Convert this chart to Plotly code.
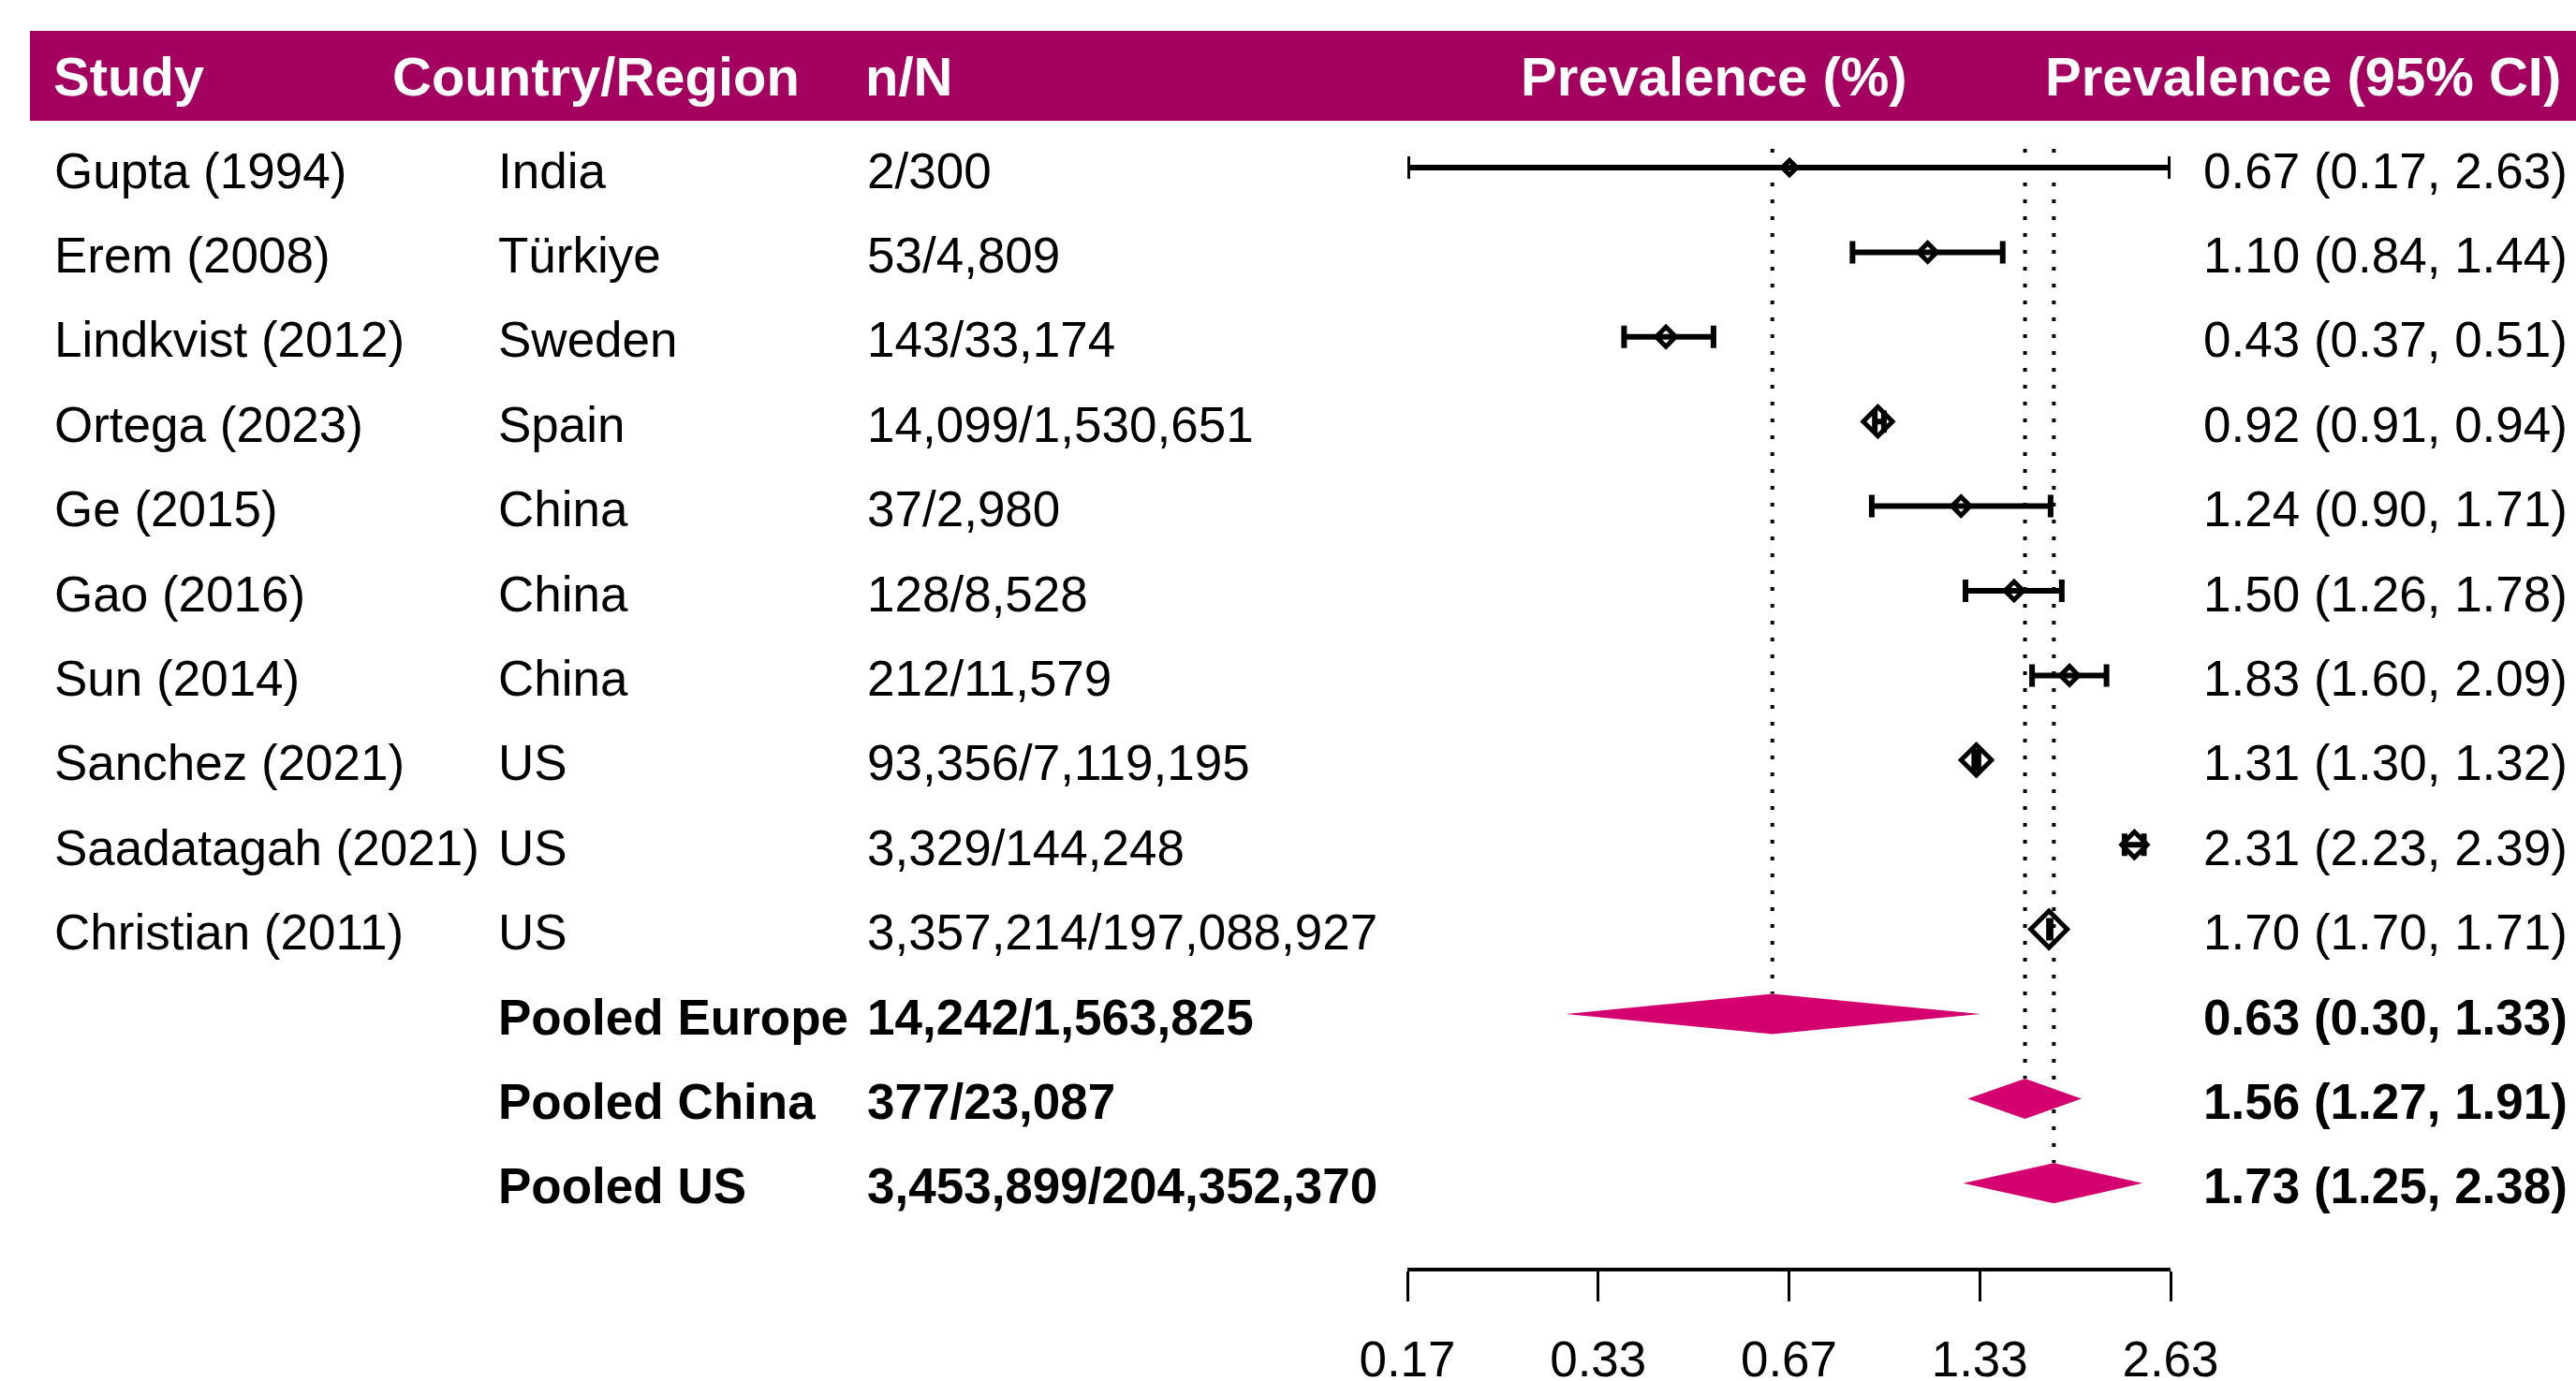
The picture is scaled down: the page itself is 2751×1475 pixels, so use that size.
import numpy as np
import plotly.graph_objects as go

# ---------------- data ----------------
studies = ["Gupta (1994)", "Erem (2008)", "Lindkvist (2012)", "Ortega (2023)", "Ge (2015)",
           "Gao (2016)", "Sun (2014)", "Sanchez (2021)", "Saadatagah (2021)", "Christian (2011)"]
countries = ["India", "Türkiye", "Sweden", "Spain", "China", "China", "China", "US", "US", "US"]
study_nN = ["2/300", "53/4,809", "143/33,174", "14,099/1,530,651", "37/2,980", "128/8,528",
            "212/11,579", "93,356/7,119,195", "3,329/144,248", "3,357,214/197,088,927"]
study_prev = [0.67, 1.10, 0.43, 0.92, 1.24, 1.50, 1.83, 1.31, 2.31, 1.70]
study_lo = [0.17, 0.84, 0.37, 0.91, 0.90, 1.26, 1.60, 1.30, 2.23, 1.70]
study_hi = [2.63, 1.44, 0.51, 0.94, 1.71, 1.78, 2.09, 1.32, 2.39, 1.71]
study_weight_size = [12, 15, 16, 24, 15, 15, 15, 25, 21, 30]

pooled_labels = ["Pooled Europe", "Pooled China", "Pooled US"]
pooled_nN = ["14,242/1,563,825", "377/23,087", "3,453,899/204,352,370"]
pooled_est = [0.63, 1.56, 1.73]
pooled_lo = [0.30, 1.27, 1.25]
pooled_hi = [1.33, 1.91, 2.38]

headers = ["Study", "Country/Region", "n/N", "Prevalence (%)", "Prevalence (95% CI)"]
tick_labels = ["0.17", "0.33", "0.67", "1.33", "2.63"]
axis_min, axis_max = 0.17, 2.63

# ---------------- layout constants ----------------
W, H = 2751, 1475
ROW0_PX, ROW_PX = 179, 90.4
FONT = "Liberation Sans, Arial, Helvetica, sans-serif"
BAND = "#A3005F"
PINK = "#D5006F"
BODY = 53
HEAD = 58
DIAM_H = 21.5 / ROW_PX

n_st = len(studies)
study_rows = list(range(n_st))
pooled_rows = [n_st + i for i in range(len(pooled_labels))]

def px(x):
    return x / W

fig = go.Figure()

# dotted reference lines at pooled estimates
for est, r in zip(pooled_est, pooled_rows):
    fig.add_trace(go.Scatter(x=[est, est], y=[-0.22, r - DIAM_H], mode="lines",
                             line=dict(color="black", width=4, dash="4px,14px"),
                             hoverinfo="skip", showlegend=False))

# study CIs
err_plus = [h - p for h, p in zip(study_hi, study_prev)]
err_minus = [p - l for p, l in zip(study_prev, study_lo)]
fig.add_trace(go.Scatter(x=study_prev, y=study_rows, mode="markers",
                         marker=dict(size=1, color="rgba(0,0,0,0)"),
                         error_x=dict(type="data", symmetric=False, array=err_plus,
                                      arrayminus=err_minus, color="black", thickness=6, width=12),
                         cliponaxis=False, hoverinfo="skip", showlegend=False))
# study point estimates (open diamonds, drawn on top)
fig.add_trace(go.Scatter(x=study_prev, y=study_rows, mode="markers",
                         marker=dict(symbol="diamond", size=study_weight_size, color="rgba(255,255,255,0)",
                                     opacity=1, line=dict(width=5, color="black")),
                         cliponaxis=False, showlegend=False))

# pooled diamonds
for est, lo, hi, r in zip(pooled_est, pooled_lo, pooled_hi, pooled_rows):
    fig.add_trace(go.Scatter(x=[lo, est, hi, est, lo], y=[r, r - DIAM_H, r, r + DIAM_H, r],
                             mode="lines", fill="toself", fillcolor=PINK,
                             line=dict(width=0, color=PINK), cliponaxis=False,
                             hoverinfo="skip", showlegend=False))

# ---------------- text columns ----------------
ann = []
def add_text(x, y, text, bold=False, anchor="left", yref="y", size=BODY, color="black", yshift=-3):
    ann.append(dict(x=px(x), xref="paper", y=y, yref=yref, text=f"<b>{text}</b>" if bold else text,
                    xanchor=anchor, yanchor="middle", showarrow=False, borderpad=0, borderwidth=0,
                    yshift=yshift, font=dict(family=FONT, size=size, color=color)))

for r, s, c, nn, p, l, h in zip(study_rows, studies, countries, study_nN, study_prev, study_lo, study_hi):
    add_text(58, r, s)
    add_text(532, r, c)
    add_text(926, r, nn)
    add_text(2742, r, f"{p:.2f} ({l:.2f}, {h:.2f})", anchor="right")

for r, lab, nn, p, l, h in zip(pooled_rows, pooled_labels, pooled_nN, pooled_est, pooled_lo, pooled_hi):
    add_text(532, r, lab, bold=True)
    add_text(926, r, nn, bold=True)
    add_text(2742, r, f"{p:.2f} ({l:.2f}, {h:.2f})", bold=True, anchor="right")

head_y = 1 - 81 / H
head_x = [57, 419, 924, 1624, 2735]
head_anchor = ["left", "left", "left", "left", "right"]
for hx, ht, ha in zip(head_x, headers, head_anchor):
    add_text(hx, head_y, ht, bold=True, anchor=ha, yref="paper", size=HEAD, color="white", yshift=0)

tickvals = list(np.geomspace(axis_min, axis_max, len(tick_labels)))

fig.update_layout(
    width=W, height=H, margin=dict(l=0, r=0, t=0, b=0, pad=0, autoexpand=False),
    paper_bgcolor="white", plot_bgcolor="white", showlegend=False,
    shapes=[dict(type="rect", xref="paper", yref="paper", x0=px(32), x1=1.0,
                 y0=1 - 129 / H, y1=1 - 33 / H, fillcolor=BAND, line=dict(width=0), layer="below")],
    annotations=ann,
    xaxis=dict(type="log", domain=[px(1503), px(2318)],
               range=[np.log10(axis_min), np.log10(axis_max)],
               anchor="free", position=1 - 1356 / H, automargin=False,
               showline=True, linewidth=4, linecolor="black", mirror=False,
               ticks="outside", ticklen=32, tickwidth=3, tickcolor="black",
               tickvals=tickvals, ticktext=tick_labels, ticklabelstandoff=16,
               tickfont=dict(family=FONT, size=BODY, color="black"),
               showgrid=False, zeroline=False, fixedrange=True),
    yaxis=dict(range=[(H - ROW0_PX) / ROW_PX, -ROW0_PX / ROW_PX], domain=[0, 1], automargin=False,
               visible=False, showgrid=False, zeroline=False, fixedrange=True),
)

fig.write_html("out.html")
